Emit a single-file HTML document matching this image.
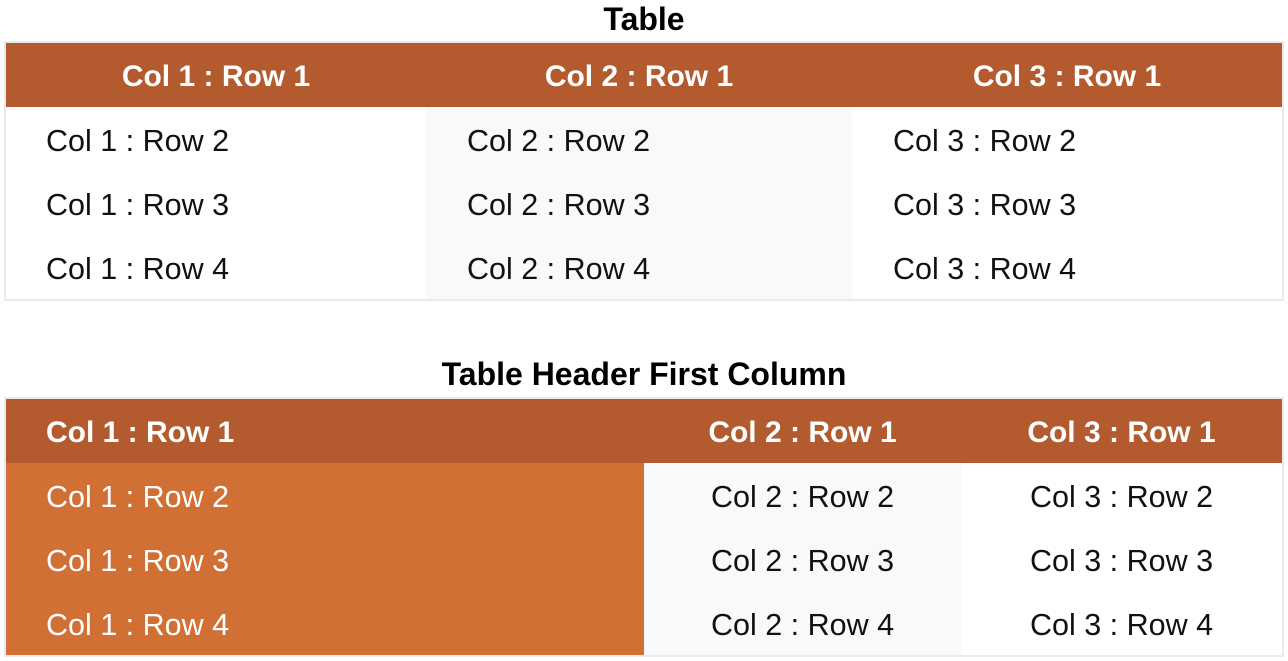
<!DOCTYPE html>
<html><head><meta charset="utf-8"><style>
body{margin:0;width:1288px;height:661px;background:#fff;font-family:"Liberation Sans",Arial,sans-serif;position:relative;overflow:hidden}
.t{position:absolute;left:0;width:1288px;text-align:center;font-weight:bold;font-size:32px;color:#000}
.box{position:absolute;left:4px;width:1276px;border:2px solid #E8EAEE}
.c{position:absolute;height:64px;line-height:68px;font-size:30.5px;color:#111;box-sizing:border-box;white-space:nowrap}
.h{background:#B35A2E;color:#fff;font-weight:bold;font-size:30px}
</style></head><body>
<div class="t" style="top:0;line-height:38px">Table</div>
<div class="box" style="top:41px;height:256px">
 <div class="c h" style="left:0;top:0;width:420px;text-align:center">Col 1 : Row 1</div>
 <div class="c h" style="left:420px;top:0;width:426px;text-align:center">Col 2 : Row 1</div>
 <div class="c h" style="left:846px;top:0;width:430px;text-align:center">Col 3 : Row 1</div>
 <div class="c" style="left:420px;top:64px;width:426px;height:192px;background:#F8F9FB"></div>
 <div class="c" style="left:40px;top:64px">Col 1 : Row 2</div>
 <div class="c" style="left:40px;top:128px">Col 1 : Row 3</div>
 <div class="c" style="left:40px;top:192px">Col 1 : Row 4</div>
 <div class="c" style="left:461px;top:64px">Col 2 : Row 2</div>
 <div class="c" style="left:461px;top:128px">Col 2 : Row 3</div>
 <div class="c" style="left:461px;top:192px">Col 2 : Row 4</div>
 <div class="c" style="left:887px;top:64px">Col 3 : Row 2</div>
 <div class="c" style="left:887px;top:128px">Col 3 : Row 3</div>
 <div class="c" style="left:887px;top:192px">Col 3 : Row 4</div>
</div>
<div class="t" style="top:355px;line-height:38px">Table Header First Column</div>
<div class="box" style="top:397px;height:256px">
 <div class="c h" style="left:0;top:0;width:638px;padding-left:40px">Col 1 : Row 1</div>
 <div class="c h" style="left:638px;top:0;width:317px;text-align:center">Col 2 : Row 1</div>
 <div class="c h" style="left:955px;top:0;width:321px;text-align:center">Col 3 : Row 1</div>
 <div class="c" style="left:0;top:64px;width:638px;height:192px;background:#D07035"></div>
 <div class="c" style="left:638px;top:64px;width:317px;height:192px;background:#F8F9FB"></div>
 <div class="c" style="left:40px;top:64px;color:#fff">Col 1 : Row 2</div>
 <div class="c" style="left:40px;top:128px;color:#fff">Col 1 : Row 3</div>
 <div class="c" style="left:40px;top:192px;color:#fff">Col 1 : Row 4</div>
 <div class="c" style="left:638px;width:317px;text-align:center;top:64px">Col 2 : Row 2</div>
 <div class="c" style="left:638px;width:317px;text-align:center;top:128px">Col 2 : Row 3</div>
 <div class="c" style="left:638px;width:317px;text-align:center;top:192px">Col 2 : Row 4</div>
 <div class="c" style="left:955px;width:321px;text-align:center;top:64px">Col 3 : Row 2</div>
 <div class="c" style="left:955px;width:321px;text-align:center;top:128px">Col 3 : Row 3</div>
 <div class="c" style="left:955px;width:321px;text-align:center;top:192px">Col 3 : Row 4</div>
</div>
</body></html>
